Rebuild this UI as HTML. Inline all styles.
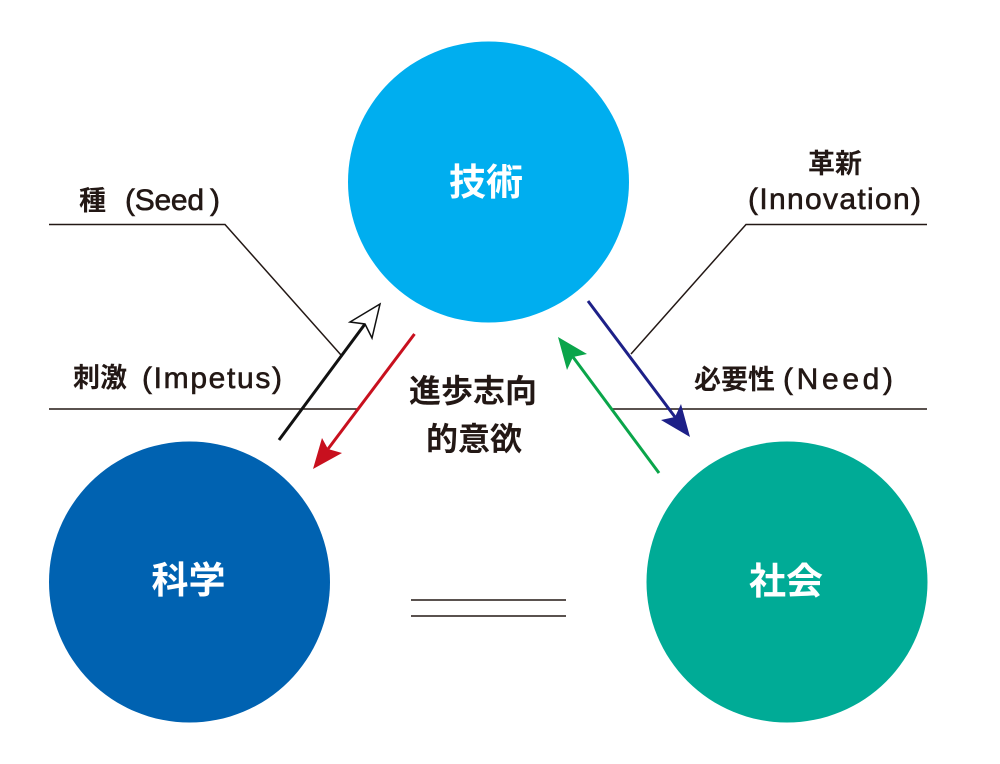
<!DOCTYPE html>
<html lang="ja">
<head>
<meta charset="utf-8">
<style>
html,body{margin:0;padding:0;background:#fff;width:1000px;height:764px;overflow:hidden}
svg{display:block}
text{font-family:"Liberation Sans","Noto Sans CJK JP",sans-serif;fill:#231815}
.m{font-weight:700;font-size:27px}
.l{font-weight:400;font-size:30px;stroke:#231815;stroke-width:.6px}
.c{font-weight:700;font-size:37px;fill:#fff}
.k{font-weight:700;font-size:32px}
</style>
</head>
<body>
<svg width="1000" height="764" viewBox="0 0 1000 764" xmlns="http://www.w3.org/2000/svg">
<rect width="1000" height="764" fill="#fff"/>
<circle cx="488.500" cy="182" r="140.500" fill="#00aeef"/>
<circle cx="189.500" cy="582" r="140.500" fill="#0062b1"/>
<circle cx="787" cy="582" r="140.500" fill="#00ab96"/>

<g fill="none" stroke="#231815">
<polyline points="49,224.500 225,224.500 341,355" stroke-width="1.500"/>
<line x1="49" y1="409" x2="357" y2="409" stroke-width="1.500"/>
<polyline points="927,224.500 746,224.500 631,354" stroke-width="1.500"/>
<line x1="927" y1="409" x2="612" y2="409" stroke-width="1.500"/>
<line x1="411" y1="600" x2="566" y2="600" stroke-width="1.500"/>
<line x1="411" y1="616" x2="566" y2="616" stroke-width="1.500"/>
</g>

<line x1="279" y1="440" x2="365" y2="324" stroke="#111" stroke-width="3"/>
<polygon points="380,304 350,322 365,324 372,338" fill="#fff" stroke="#111" stroke-width="1.500"/>

<line x1="414.500" y1="334" x2="328" y2="449" stroke="#c8101e" stroke-width="3"/>
<polygon points="313,469 322,438 328,449 342,453" fill="#c8101e"/>

<line x1="588" y1="301" x2="675" y2="417" stroke="#1d2088" stroke-width="3"/>
<polygon points="690,437 681,404 675,417 661,420" fill="#1d2088"/>

<line x1="659" y1="473" x2="573" y2="357" stroke="#0aa54a" stroke-width="3"/>
<polygon points="558,337 587,354 573,357 567,370" fill="#0aa54a"/>

<text class="c" x="486" y="195" text-anchor="middle">技術</text>
<text class="c" x="188.500" y="593" text-anchor="middle">科学</text>
<text class="c" x="786" y="594" text-anchor="middle">社会</text>

<text class="k" x="473" y="402" text-anchor="middle">進歩志向</text>
<text class="k" x="474" y="450" text-anchor="middle">的意欲</text>

<text class="m" x="79" y="210">種</text>
<text class="l" x="125" y="210" textLength="79">(Seed</text>
<text class="l" x="210" y="210">)</text>
<text class="m" x="73" y="387">刺激</text>
<text class="l" x="142" y="388" textLength="140">(Impetus)</text>
<text class="m" x="835" y="173" text-anchor="middle">革新</text>
<text class="l" x="748" y="209" textLength="173">(Innovation)</text>
<text class="m" x="694" y="389">必要性</text>
<text class="l" x="783" y="389" textLength="110">(Need)</text>
</svg>
</body>
</html>
